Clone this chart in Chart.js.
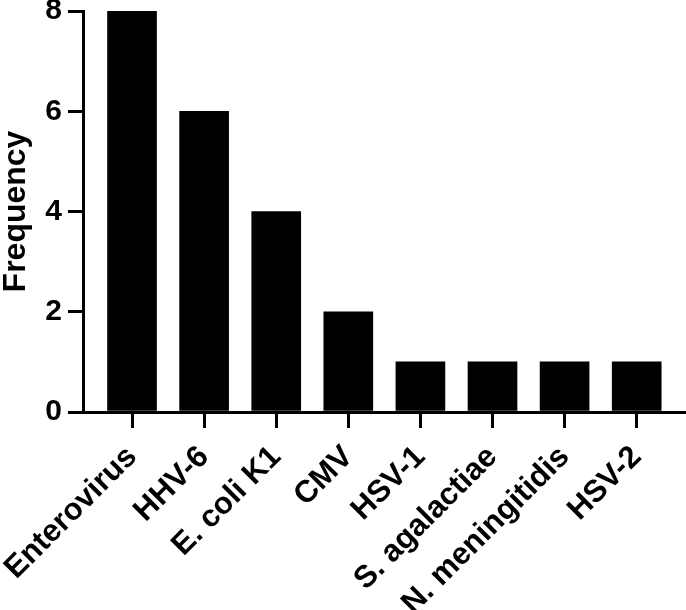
<!DOCTYPE html>
<html>
<head>
<meta charset="utf-8">
<script src="https://cdn.jsdelivr.net/npm/chart.js@4"></script>
<style>
  html, body { margin: 0; padding: 0; background: #fff; }
  #wrap { width: 686px; height: 610px; position: relative; }
</style>
</head>
<body>
<div id="wrap"><canvas id="chart"></canvas></div>
<script>
const categories = ['Enterovirus', 'HHV-6', 'E. coli K1', 'CMV', 'HSV-1', 'S. agalactiae', 'N. meningitidis', 'HSV-2'];
const frequency = [8, 6, 4, 2, 1, 1, 1, 1];
const yTicks = [0, 2, 4, 6, 8];

const family = '"Liberation Sans", Arial, sans-serif';

new Chart(document.getElementById('chart'), {
	type: 'bar',
	data: {
		datasets: [{
			data: frequency.map((v, i) => ({ x: i, y: v })),
			backgroundColor: '#000',
			borderWidth: 0,
			barThickness: 49
		}]
	},
	options: {
		responsive: true,
		maintainAspectRatio: false,
		animation: false,
		layout: { padding: { top: 0, right: 1, left: 0, bottom: 0 } },
		plugins: { legend: { display: false }, tooltip: { enabled: false } },
		scales: {
			x: {
				type: 'linear',
				offset: false,
				min: -0.68,
				max: 7.67,
				afterBuildTicks: s => { s.ticks = categories.map((c, i) => ({ value: i })); },
				afterFit: s => { s.height = 198; s.paddingLeft = 0; s.paddingRight = 0; },
				ticks: {
					callback: v => categories[v],
					color: '#000',
					font: { family, weight: 'bold', size: 31, lineHeight: 1 },
					minRotation: 45,
					maxRotation: 45,
					autoSkip: false,
					padding: 13
				},
				grid: { offset: false, drawOnChartArea: false, drawTicks: true, tickLength: 16, color: '#000', lineWidth: 3 },
				border: { color: '#000', width: 3 }
			},
			y: {
				min: 0,
				max: 8,
				afterBuildTicks: s => { s.ticks = yTicks.map(v => ({ value: v })); },
				afterFit: s => { s.width = 83; s.paddingTop = 11; s.paddingBottom = 0; },
				ticks: { color: '#000', font: { family, weight: 'bold', size: 30, lineHeight: 1 }, padding: 6 },
				grid: { drawOnChartArea: false, drawTicks: true, tickLength: 15, color: '#000', lineWidth: 3 },
				border: { color: '#000', width: 3 },
				title: {
					display: true,
					text: 'Frequency',
					color: '#000',
					font: { family, weight: 'bold', size: 32, lineHeight: 1 },
					padding: { top: 0, bottom: 0 }
				}
			}
		}
	}
});
</script>
</body>
</html>
